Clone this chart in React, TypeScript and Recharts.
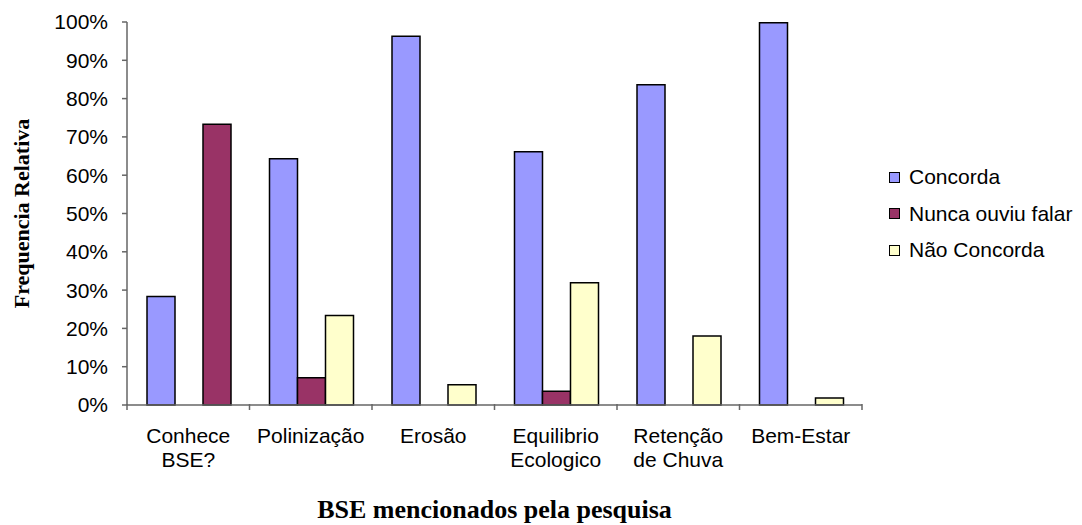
import React from 'react';
import { BarChart, Bar, XAxis, YAxis, Legend, Label, Cell } from 'recharts';

const categories = ['Conhece BSE?', 'Polinização', 'Erosão', 'Equilibrio Ecologico', 'Retenção de Chuva', 'Bem-Estar'];
const concorda = [28.3, 64.3, 96.3, 66.1, 83.6, 99.8];
const nuncaOuviu = [0, 7.1, 0, 3.6, 0, 0];
const naoConcorda = [73.3, 23.4, 5.3, 31.9, 18.0, 1.8];
const yTicks = [0, 10, 20, 30, 40, 50, 60, 70, 80, 90, 100];

const COLORS = { concorda: '#9999FF', nunca: '#993366', nao: '#FFFFCC' };
const AXIS = '#666666';
const SANS = '"Liberation Sans", Arial, sans-serif';
const SERIF = '"Liberation Serif", "Times New Roman", serif';

const data = categories.map((name, i) => ({
  name,
  concorda: concorda[i],
  nunca: nuncaOuviu[i],
  nao: naoConcorda[i],
}));

// Excel puts the tick marks between categories, and wraps the labels
const CategoryTick = (props: any) => {
  const { x, y, payload, index, visibleTicksCount } = props;
  const half = payload.offset || 0;
  const words = String(payload.value).split(' ');
  const lines = words.length > 1 ? [words[0], words.slice(1).join(' ')] : words;
  const isLast = index === visibleTicksCount - 1;
  return (
    <g>
      <line x1={x - half} x2={x - half} y1={y - 1} y2={y + 5} stroke={AXIS} strokeWidth={1.5} />
      {isLast && <line x1={x + half} x2={x + half} y1={y - 1} y2={y + 5} stroke={AXIS} strokeWidth={1.5} />}
      {lines.map((line, i) => (
        <text
          key={i}
          x={x}
          y={y + 38 + i * 24}
          textAnchor="middle"
          fill="#000"
          style={{ fontFamily: SANS, fontSize: 21 }}
        >
          {line}
        </text>
      ))}
    </g>
  );
};

const LegendBox = (props: any) => {
  const { payload } = props;
  return (
    <div style={{ fontFamily: SANS, fontSize: 21, color: '#000' }}>
      {payload.map((entry: any) => (
        <div key={entry.value} style={{ display: 'flex', alignItems: 'center', height: 36.5 }}>
          <span
            style={{
              display: 'inline-block',
              width: 9,
              height: 9,
              background: entry.color,
              border: '1px solid #000',
              marginRight: 9,
            }}
          />
          <span>{entry.value}</span>
        </div>
      ))}
    </div>
  );
};

export default function App() {
  return (
    <div style={{ position: 'absolute', left: 0, top: 0, width: 1082, height: 525, background: '#fff' }}>
      <BarChart
        width={1082}
        height={525}
        data={data}
        margin={{ top: 22, right: 220, bottom: 119, left: 0 }}
        barCategoryGap={20}
        barGap={0}
      >
        <XAxis
          dataKey="name"
          height={1}
          interval={0}
          tickLine={false}
          tickSize={0}
          tickMargin={0}
          axisLine={{ stroke: AXIS, strokeWidth: 1.5 }}
          tick={<CategoryTick />}
        >
          <Label
            content={(p: any) => {
              const vb = p.viewBox;
              return (
                <text
                  x={vb.x + vb.width / 2}
                  y={vb.y + 113}
                  textAnchor="middle"
                  fill="#000"
                  style={{ fontFamily: SERIF, fontSize: 26, fontWeight: 'bold' }}
                >
                  BSE mencionados pela pesquisa
                </text>
              );
            }}
          />
        </XAxis>
        <YAxis
          width={127}
          domain={[0, 100]}
          ticks={yTicks}
          interval={0}
          tickFormatter={(v: number) => `${v}%`}
          tickSize={5}
          tickMargin={14}
          axisLine={{ stroke: AXIS, strokeWidth: 1.5 }}
          tickLine={{ stroke: AXIS, strokeWidth: 1.5 }}
          tick={{ fill: '#000', fontFamily: SANS, fontSize: 21 }}
        >
          <Label
            content={(p: any) => {
              const vb = p.viewBox;
              const cy = vb.y + vb.height / 2;
              return (
                <text
                  x={29}
                  y={cy}
                  textAnchor="middle"
                  transform={`rotate(-90, 29, ${cy})`}
                  fill="#000"
                  style={{ fontFamily: SERIF, fontSize: 22, fontWeight: 'bold' }}
                >
                  Frequencia Relativa
                </text>
              );
            }}
          />
        </YAxis>
        <Legend
          layout="vertical"
          align="center"
          verticalAlign="middle"
          wrapperStyle={{ left: 889, top: 159, width: 193 }}
          content={<LegendBox />}
        />
        <Bar dataKey="concorda" name="Concorda" fill={COLORS.concorda} stroke="#000" strokeWidth={1.5} isAnimationActive={false} />
        <Bar dataKey="nunca" name="Nunca ouviu falar" fill={COLORS.nunca} stroke="#000" strokeWidth={1.5} isAnimationActive={false} />
        <Bar dataKey="nao" name="Não Concorda" fill={COLORS.nao} stroke="#000" strokeWidth={1.5} isAnimationActive={false}>
          {data.map((d, i) => (
            // the "Conhece BSE?" point was recoloured in the original chart
            <Cell key={d.name} fill={i === 0 ? COLORS.nunca : COLORS.nao} />
          ))}
        </Bar>
      </BarChart>
    </div>
  );
}
